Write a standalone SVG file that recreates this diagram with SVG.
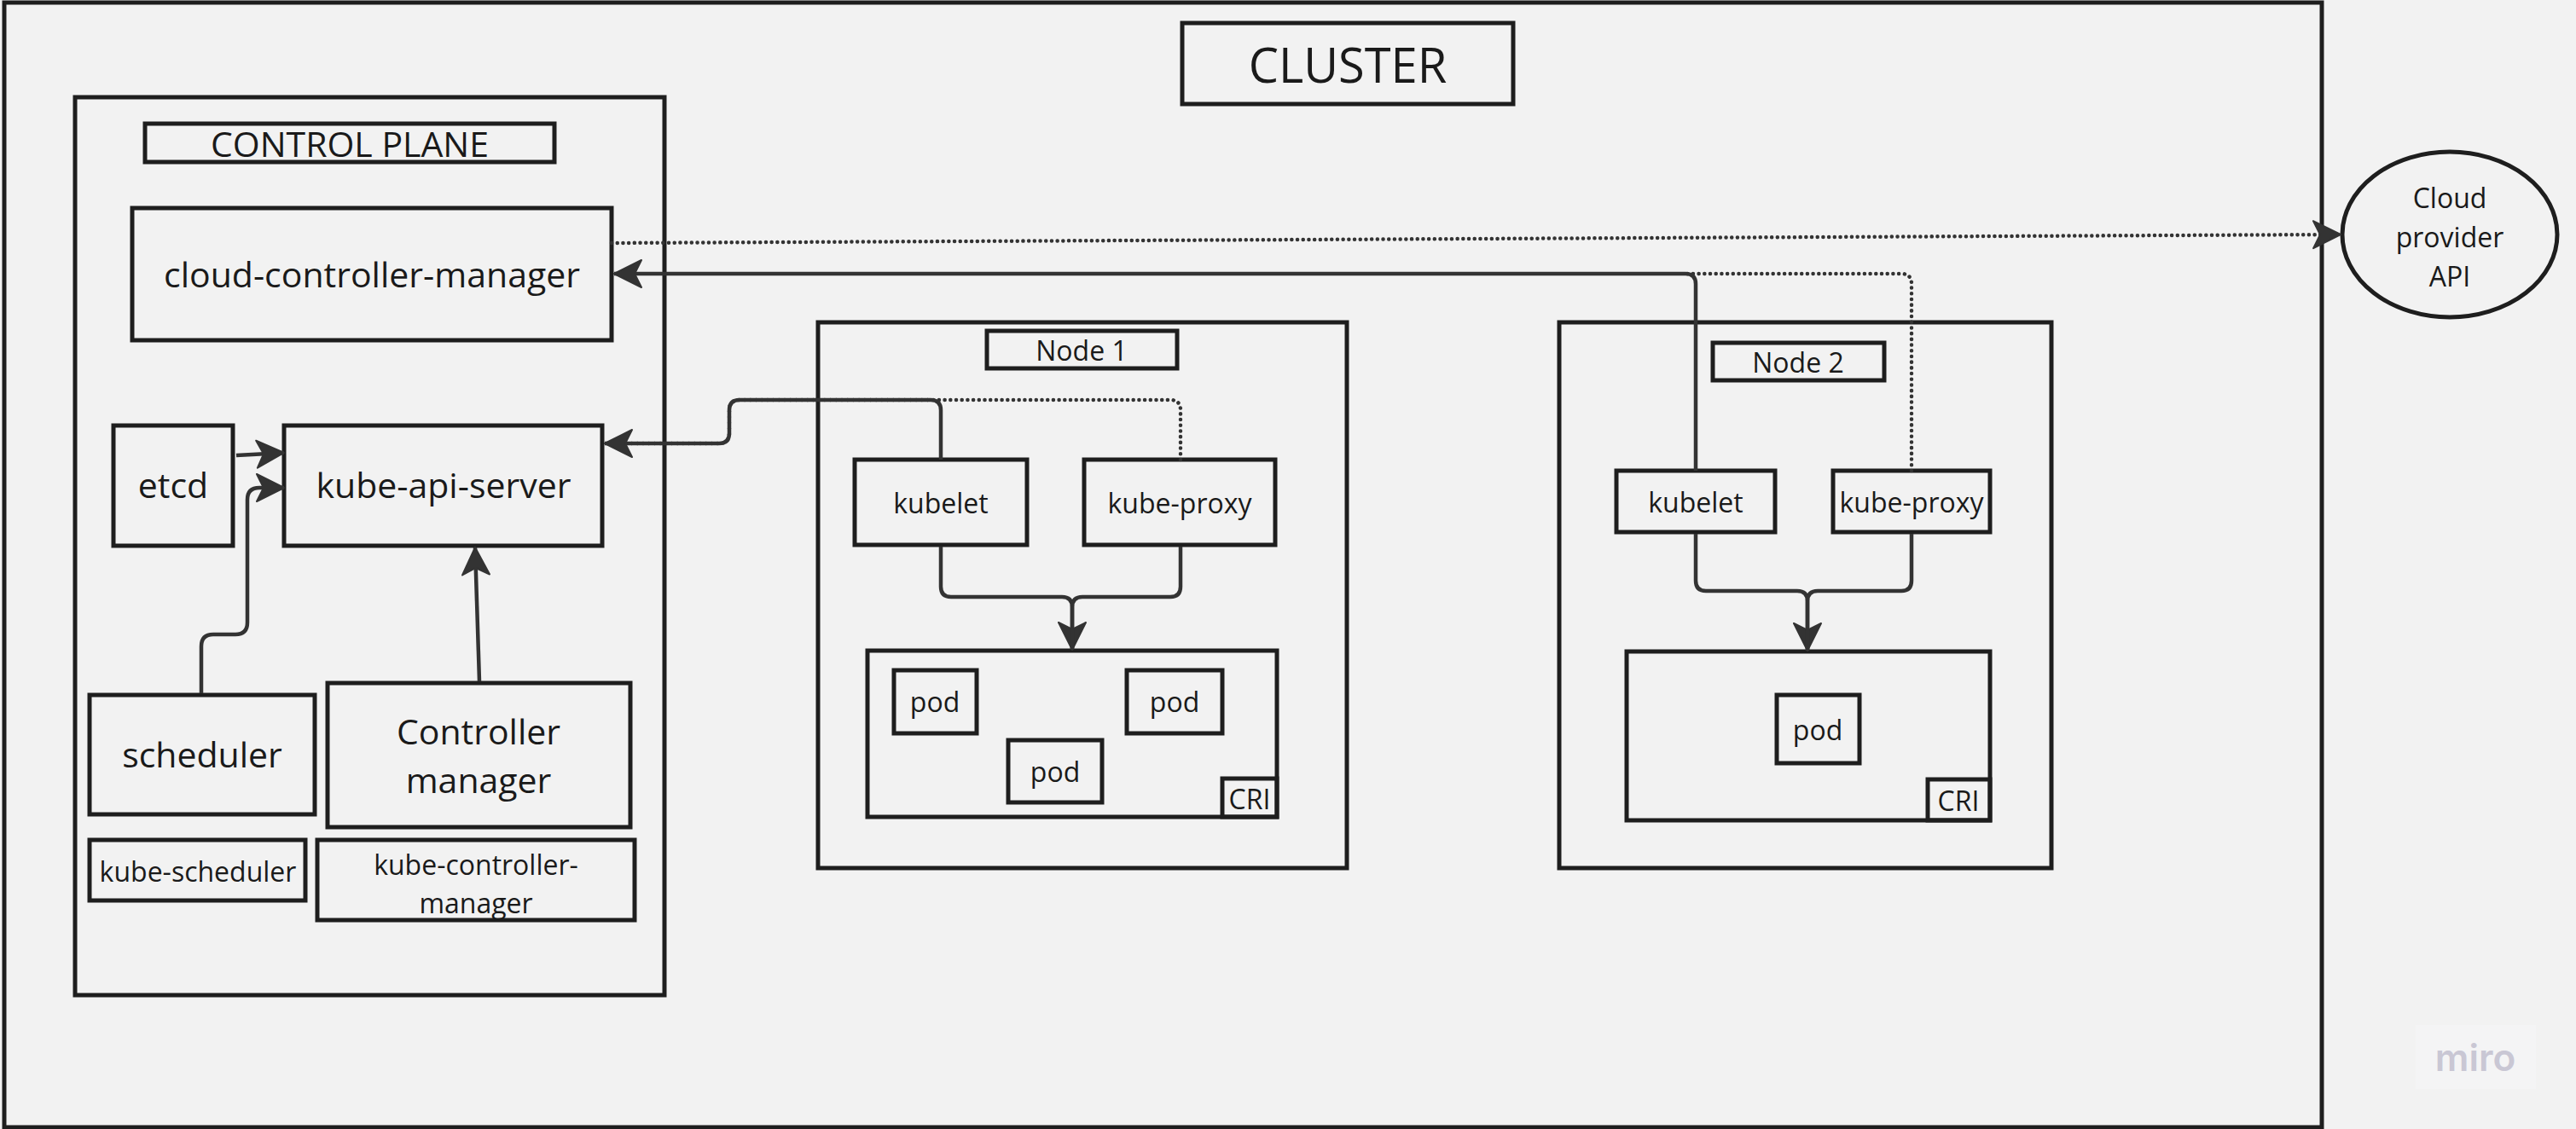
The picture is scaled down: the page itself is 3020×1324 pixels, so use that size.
<svg xmlns="http://www.w3.org/2000/svg" width="3020" height="1324" viewBox="0 0 3020 1324">
<style>
.box{fill:none;stroke:#1e1e1e;stroke-width:5}
.t{font-family:"Open Sans","Noto Sans","Liberation Sans",sans-serif;fill:#1a1a1a;text-anchor:middle;dominant-baseline:central}
.c{fill:none;stroke:#333;stroke-width:4.5;stroke-linejoin:round}
.d{fill:none;stroke:#333;stroke-width:4.5;stroke-dasharray:0.1 6.6;stroke-linecap:round}
</style>
<defs>
<marker id="ah" markerUnits="userSpaceOnUse" markerWidth="36" markerHeight="36" viewBox="0 0 36 36" refX="34" refY="18" orient="auto">
<path d="M2,2 L34,18 L2,34 L10,18 Z" fill="#333" stroke="#333" stroke-width="2" stroke-linejoin="round"/>
</marker>
</defs>
<rect width="3020" height="1324" fill="#f2f2f2"/>
<g id="cluster">
<rect class="box" x="5" y="3" width="2717" height="1319"/>
<rect class="box" x="1386" y="27" width="388" height="95"/>
<text class="t" x="1580" y="75" font-size="56">CLUSTER</text>
</g>
<g id="cloud-provider-api">
<ellipse cx="2872" cy="275" rx="126" ry="97" fill="none" stroke="#1e1e1e" stroke-width="5"/>
<text class="t" x="2872" y="231" font-size="32">Cloud</text>
<text class="t" x="2872" y="277" font-size="32">provider</text>
<text class="t" x="2872" y="323" font-size="32">API</text>
</g>
<g id="control-plane">
<rect class="box" x="88" y="114" width="691" height="1053"/>
<rect class="box" x="170" y="145" width="480" height="45"/>
<text class="t" x="410" y="168" font-size="41">CONTROL PLANE</text>
</g>
<g id="cloud-controller-manager">
<rect class="box" x="155" y="244" width="562" height="155"/>
<text class="t" x="436" y="321" font-size="41">cloud-controller-manager</text>
</g>
<g id="etcd">
<rect class="box" x="133" y="499" width="140" height="141"/>
<text class="t" x="203" y="568" font-size="41">etcd</text>
</g>
<g id="kube-api-server">
<rect class="box" x="333" y="499" width="373" height="141"/>
<text class="t" x="520" y="568" font-size="41">kube-api-server</text>
</g>
<g id="scheduler">
<rect class="box" x="105" y="815" width="264" height="140"/>
<text class="t" x="237" y="884" font-size="41">scheduler</text>
</g>
<g id="controller-manager">
<rect class="box" x="384" y="801" width="355" height="169"/>
<text class="t" x="561" y="857" font-size="41">Controller</text>
<text class="t" x="561" y="914" font-size="41">manager</text>
</g>
<g id="kube-scheduler">
<rect class="box" x="105" y="985" width="253" height="71"/>
<text class="t" x="232" y="1021" font-size="32">kube-scheduler</text>
</g>
<g id="kube-controller-manager">
<rect class="box" x="372" y="985" width="372" height="94"/>
<text class="t" x="558" y="1013" font-size="32">kube-controller-</text>
<text class="t" x="558" y="1058" font-size="32">manager</text>
</g>
<g id="node-1">
<rect class="box" x="959" y="378" width="620" height="640"/>
<rect class="box" x="1157" y="388" width="223" height="44"/>
<text class="t" x="1268" y="410" font-size="32">Node 1</text>
</g>
<g id="node1-kubelet">
<rect class="box" x="1002" y="539" width="202" height="100"/>
<text class="t" x="1103" y="589" font-size="32">kubelet</text>
</g>
<g id="node1-kube-proxy">
<rect class="box" x="1271" y="539" width="224" height="100"/>
<text class="t" x="1383" y="589" font-size="32">kube-proxy</text>
</g>
<g id="node1-runtime">
<rect class="box" x="1017" y="763" width="480" height="195"/>
<rect class="box" x="1433" y="913" width="64" height="45"/>
<text class="t" x="1465" y="936" font-size="32">CRI</text>
</g>
<g id="node1-pod1">
<rect class="box" x="1048" y="786" width="97" height="74"/>
<text class="t" x="1096" y="822" font-size="32">pod</text>
</g>
<g id="node1-pod2">
<rect class="box" x="1321" y="786" width="112" height="74"/>
<text class="t" x="1377" y="822" font-size="32">pod</text>
</g>
<g id="node1-pod3">
<rect class="box" x="1182" y="868" width="110" height="73"/>
<text class="t" x="1237" y="904" font-size="32">pod</text>
</g>
<g id="node-2">
<rect class="box" x="1828" y="378" width="577" height="640"/>
<rect class="box" x="2008" y="402" width="201" height="44"/>
<text class="t" x="2108" y="424" font-size="32">Node 2</text>
</g>
<g id="node2-kubelet">
<rect class="box" x="1895" y="552" width="186" height="72"/>
<text class="t" x="1988" y="588" font-size="32">kubelet</text>
</g>
<g id="node2-kube-proxy">
<rect class="box" x="2149" y="552" width="184" height="72"/>
<text class="t" x="2241" y="588" font-size="32">kube-proxy</text>
</g>
<g id="node2-runtime">
<rect class="box" x="1907" y="764" width="426" height="198"/>
<rect class="box" x="2260" y="914" width="73" height="48"/>
<text class="t" x="2296" y="938" font-size="32">CRI</text>
</g>
<g id="node2-pod">
<rect class="box" x="2083" y="815" width="97" height="80"/>
<text class="t" x="2131" y="855" font-size="32">pod</text>
</g>
<g id="connectors">
<path class="d" d="M717,285 L2744,275" marker-end="url(#ah)"/>
<path class="d" d="M1384,539 V481 Q1384,469 1372,469 H867 Q855,469 855,481 V508 Q855,520 843,520 H709"/>
<path class="c" d="M1103,539 V481 Q1103,469 1091,469 H867 Q855,469 855,481 V508 Q855,520 843,520 H709" marker-end="url(#ah)"/>
<path class="d" d="M2241,552 V333 Q2241,321 2229,321 H1976"/>
<path class="c" d="M1988,552 V333 Q1988,321 1976,321 H720" marker-end="url(#ah)"/>
<path class="c" d="M277,534 L333,531" marker-end="url(#ah)"/>
<path class="c" d="M236,813 V758 Q236,744 250,744 H276 Q290,744 290,730 V586 Q290,572 304,572 H333" marker-end="url(#ah)"/>
<path class="c" d="M562,799 L557,642" marker-end="url(#ah)"/>
<path class="c" d="M1103,641 V688 Q1103,700 1115,700 H1245 Q1257,700 1257,712 V762" marker-end="url(#ah)"/>
<path class="c" d="M1384,641 V688 Q1384,700 1372,700 H1269 Q1257,700 1257,712 V762"/>
<path class="c" d="M1988,626 V681 Q1988,693 2000,693 H2107 Q2119,693 2119,705 V763" marker-end="url(#ah)"/>
<path class="c" d="M2241,626 V681 Q2241,693 2229,693 H2131 Q2119,693 2119,705 V763"/>
</g>
<g id="watermark">
<rect x="2832" y="1202" width="141" height="75" fill="#f4f4f5"/>
<text x="2902" y="1240" font-family="Inter, 'Open Sans', sans-serif" font-weight="600" font-size="44" fill="#c9c7d4" text-anchor="middle" dominant-baseline="central">miro</text>
</g>
</svg>
